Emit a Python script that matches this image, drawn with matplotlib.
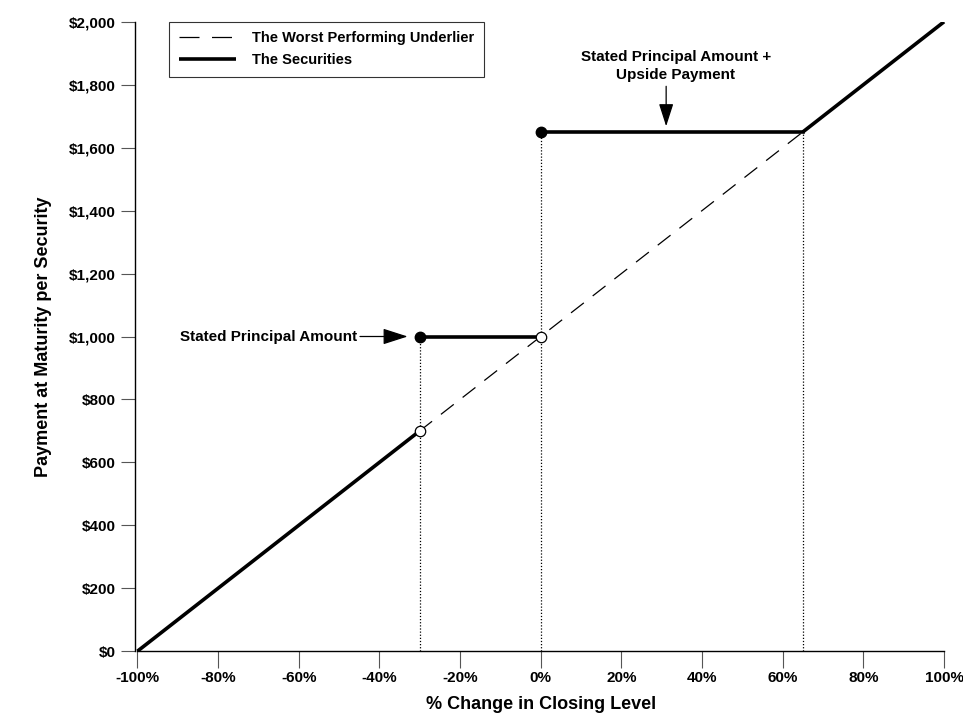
import matplotlib
matplotlib.use("Agg")
import matplotlib.pyplot as plt
import numpy as np

plt.rcParams["font.family"] = ["Liberation Sans", "DejaVu Sans"]
plt.rcParams["font.weight"] = "bold"

# data
x_under = [-100, 100]
y_under = [0, 2000]

x_low = [-100, -30]
y_low = [0, 700]
x_mid = [-30, 0]
y_mid = [1000, 1000]
x_cap = [0, 65]
y_cap = [1650, 1650]
x_up = [65, 100]
y_up = [1650, 2000]

open_x = [-30, 0]
open_y = [700, 1000]
filled_x = [-30, 0]
filled_y = [1000, 1650]

vline_x = [-30, 0, 65]
vline_top = [1000, 1650, 1650]

xticks = np.arange(-100, 101, 20)
yticks = np.arange(0, 2001, 200)
xticklabels = ["%d%%" % v for v in xticks]
yticklabels = ["${:,}".format(v) for v in yticks]

fig = plt.figure(figsize=(9.63, 7.26), dpi=100)
ax = fig.add_axes([0.1406, 0.103, 0.8418, 0.867])

# dotted guides
for xv, top in zip(vline_x, vline_top):
    ax.plot([xv, xv], [0, top], color="black", linestyle=(0, (1, 1.5)), linewidth=0.9, zorder=1)

ax.plot(x_under, y_under, color="black", linewidth=0.9, dashes=(13, 9),
        label="The Worst Performing Underlier", zorder=2)
ax.plot(x_low, y_low, color="black", linewidth=2.6, solid_capstyle="butt",
        label="The Securities", zorder=3)
ax.plot(x_mid, y_mid, color="black", linewidth=2.6, zorder=3)
ax.plot(x_cap, y_cap, color="black", linewidth=2.6, zorder=3)
ax.plot(x_up, y_up, color="black", linewidth=2.6, solid_capstyle="butt", zorder=3)

ax.plot(open_x, open_y, "o", markersize=7.5, markerfacecolor="white",
        markeredgecolor="black", markeredgewidth=0.9, zorder=4)
ax.plot(filled_x, filled_y, "o", markersize=7.5, color="black", zorder=4)

# annotations
arrow = dict(arrowstyle="-|>,head_length=1.4,head_width=0.45",
             color="black", linewidth=0.9, shrinkA=0, shrinkB=0)
ax.annotate("Stated Principal Amount", xy=(-33.0, 1000), xytext=(-45.5, 1000),
            ha="right", va="center", fontsize=11, arrowprops=arrow)
ax.annotate("", xy=(31.1, 1668), xytext=(31.1, 1795), arrowprops=arrow)
ax.text(33.5, 1808, "Stated Principal Amount +\nUpside Payment", ha="center", va="bottom",
        fontsize=11, linespacing=1.4)

ax.set_xlim(-100.5, 100.5)
ax.set_ylim(0, 2000)
ax.set_xticks(xticks)
ax.set_xticklabels(xticklabels)
ax.set_yticks(yticks)
ax.set_yticklabels(yticklabels)
ax.tick_params(axis="both", direction="out", length=10, width=0.8, color="#555555",
               labelsize=11, pad=4)
ax.tick_params(axis="x", length=12, pad=2)

for side in ["top", "right"]:
    ax.spines[side].set_visible(False)
ax.spines["left"].set_linewidth(1.0)
ax.spines["bottom"].set_linewidth(1.0)
ax.spines["left"].set_bounds(0, 2000)
ax.spines["bottom"].set_bounds(-100, 100)

ax.set_xlabel("% Change in Closing Level", fontsize=13, fontweight="bold", labelpad=8)
ax.set_ylabel("Payment at Maturity per Security", fontsize=13, fontweight="bold", labelpad=12)

leg = ax.legend(loc="upper left", bbox_to_anchor=(0.042, 1.0), borderaxespad=0,
                fontsize=10.5, frameon=True, fancybox=False, edgecolor="black",
                handlelength=3.9, borderpad=0.65, labelspacing=0.55, handletextpad=1.1)
leg.get_frame().set_linewidth(0.8)
leg.get_lines()[0].set_dashes((16, 10))

fig.savefig("out.png", dpi=100)
